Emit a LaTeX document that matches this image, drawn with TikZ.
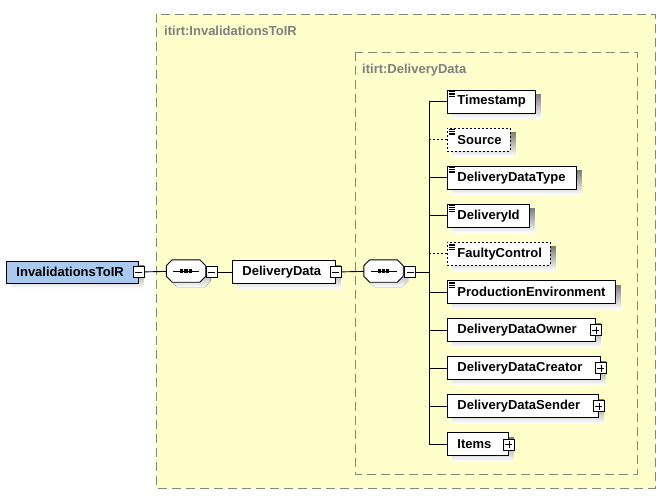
\documentclass[tikz,border=0pt]{standalone}
\usepackage{fontspec}
\setmainfont{Liberation Sans}
\definecolor{panelfill}{HTML}{FFFFCC}
\definecolor{panelline}{HTML}{858578}
\definecolor{rootblue}{HTML}{A9C9EF}
\definecolor{shade}{HTML}{B2B2B2}
\definecolor{grouptext}{HTML}{7F7F7F}
\pgfdeclarelayer{back}
\pgfdeclarelayer{shadowlayer}
\pgfsetlayers{back,shadowlayer,main}
\tikzset{
  box/.style={draw=black, line width=0.9pt, fill=white, anchor=west, minimum height=23pt,
    inner xsep=10pt, inner ysep=0pt, align=left,
    font=\fontsize{13}{15}\selectfont\bfseries},
  optbox/.style={box, dash pattern=on 2pt off 2pt},
  compholder/.style={rectangle, draw=none, minimum width=39pt, minimum height=22pt, inner sep=0pt},
  minusbox/.style={draw=black, fill=white, line width=0.8pt, minimum size=11pt, inner sep=0pt,
    path picture={\draw[line width=0.8pt] ([xshift=2pt]path picture bounding box.west) -- ([xshift=-2pt]path picture bounding box.east);}},
  plusbox/.style={minusbox,
    path picture={\draw[line width=0.8pt] ([xshift=2pt]path picture bounding box.west) -- ([xshift=-2pt]path picture bounding box.east)
      ([yshift=-2pt]path picture bounding box.north) -- ([yshift=2pt]path picture bounding box.south);}},
  grouplabel/.style={anchor=west, text=grouptext, font=\fontsize{13}{15}\selectfont\bfseries, inner sep=0pt},
  panel/.style={draw=panelline, fill=panelfill, line width=0.9pt, dash pattern=on 9pt off 5pt},
  conn/.style={draw=black, line width=0.9pt},
  optconn/.style={conn, dash pattern=on 2pt off 2pt},
}
\newcommand{\simpleicon}[1]{%
  \foreach \k in {2,3.7,5.4,7.1}{\draw[line width=0.9pt] ([xshift=2pt,yshift=-\k pt]#1.north west) -- ++(6pt,0);}}
\newcommand{\boxshadow}[1]{%
  \path (#1.north west) ++(5pt,-5pt) coordinate (shnw);
  \path (#1.south east) ++(5pt,-5pt) coordinate (shse);
  \fill[shade] (shnw) rectangle (shse);}
% #2, #3: offsets in pt (right, up)
\newcommand{\octpath}[3]{([xshift={#2+6pt}, yshift={#3}]#1.north west) -- ([xshift={#2-6pt}, yshift={#3}]#1.north east) -- ([xshift={#2}, yshift={#3-6pt}]#1.north east) -- ([xshift={#2}, yshift={#3+6pt}]#1.south east) -- ([xshift={#2-6pt}, yshift={#3}]#1.south east) -- ([xshift={#2+6pt}, yshift={#3}]#1.south west) -- ([xshift={#2}, yshift={#3+6pt}]#1.south west) -- ([xshift={#2}, yshift={#3-6pt}]#1.north west) -- cycle}
\newcommand{\seqcomp}[1]{%
  \begin{pgfonlayer}{shadowlayer}
    \fill[shade] \octpath{#1}{5pt}{-5pt};
  \end{pgfonlayer}
  \draw[line width=0.9pt, fill=white] \octpath{#1}{0pt}{0pt};
  \draw[line width=0.9pt] ([xshift=-13pt]#1.center) -- ([xshift=13pt]#1.center);
  \foreach \d in {-4.3,0,4.3}{\fill ([xshift=\d pt-1.6pt, yshift=2pt]#1.center) rectangle ++(3.2pt,-4pt);}}
\begin{document}
\begin{tikzpicture}[x=1pt,y=-1pt]
  \begin{pgfonlayer}{back}
    \fill[white] (0,0) rectangle (664,500);
    \draw[panel] (156,14) rectangle (655,488);
    \draw[panel] (355,52) rectangle (637,474);
  \end{pgfonlayer}
  \useasboundingbox (0,0) rectangle (664,500);
  \node[grouplabel] (g1) at (164,31) {itirt:InvalidationsToIR};
  \node[grouplabel] (g2) at (362,70) {itirt:DeliveryData};

  % root
  \node[box, fill=rootblue, minimum height=22pt, text width=112pt] (root) at (6,272) {InvalidationsToIR};
  \node[minusbox] (rootm) at (root.east) {};
  % compositor 1
  \node[compholder] (c1) at (186,271) {};
  \seqcomp{c1}
  \node[minusbox] (c1m) at (211.5,272) {};
  % DeliveryData
  \node[box, text width=83pt] (dd) at (232,272) {DeliveryData};
  \node[minusbox] (ddm) at (dd.east) {};
  % compositor 2
  \node[compholder] (c2) at (383.5,271) {};
  \seqcomp{c2}
  \node[minusbox] (c2m) at (410,272) {};

  % children
  \node[box, text width=68pt] (ts) at (447,101.5) {Timestamp};
  \node[optbox, text width=43pt] (src) at (447,139.6) {Source};
  \node[box, text width=109pt] (ddt) at (447,177.7) {DeliveryDataType};
  \node[box, text width=62pt] (did) at (447,215.8) {DeliveryId};
  \node[optbox, text width=83pt] (fc) at (447,253.9) {FaultyControl};
  \node[box, text width=148pt] (pe) at (447,292) {ProductionEnvironment};
  \node[box, text width=128pt] (ddo) at (447,330.1) {DeliveryDataOwner};
  \node[plusbox] (ddop) at (ddo.east) {};
  \node[box, text width=133pt] (ddc) at (447,368.2) {DeliveryDataCreator};
  \node[plusbox] (ddcp) at (ddc.east) {};
  \node[box, text width=131pt] (dds) at (447,406.3) {DeliveryDataSender};
  \node[plusbox] (ddsp) at (dds.east) {};
  \node[box, text width=41pt] (it) at (447,444.4) {Items};
  \node[plusbox] (itp) at (it.east) {};

  \begin{pgfonlayer}{shadowlayer}
    \foreach \n in {root,dd,ts,src,ddt,did,fc,pe,ddo,ddc,dds,it}{\boxshadow{\n}}
  \end{pgfonlayer}
  \foreach \n in {ts,src,ddt,did,fc,pe}{\simpleicon{\n}}

  % connectors
  \draw[conn] (rootm) -- (c1);
  \draw[conn] (c1m) -- (dd);
  \draw[conn] (ddm) -- (c2);
  \coordinate (j) at (429,272);
  \draw[conn] (c2m) -- (j);
  \draw[conn] (j |- ts.west) -- (j |- it.west);
  \foreach \n in {ts,ddt,did,pe,ddo,ddc,dds,it}{\draw[conn] (j |- \n.west) -- (\n.west);}
  \foreach \n in {src,fc}{\draw[optconn] (j |- \n.west) -- (\n.west);}
\end{tikzpicture}
\end{document}
